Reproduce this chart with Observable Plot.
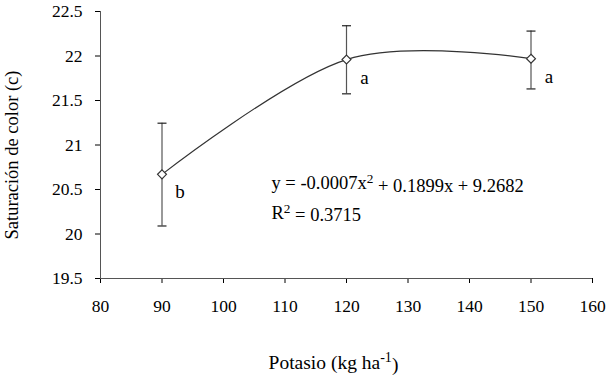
<!DOCTYPE html>
<html>
<head>
<meta charset="utf-8">
<script src="https://cdn.jsdelivr.net/npm/d3@7"></script>
<script src="https://cdn.jsdelivr.net/npm/@observablehq/plot@0.6"></script>
<style>
  html, body { margin: 0; padding: 0; background: #fff; }
</style>
</head>
<body>
<div id="chart"></div>
<script>
// Data
const potassium = [90, 120, 150];
const saturation = [20.67, 21.96, 21.97];
const errLow = [20.09, 21.575, 21.63];
const errHigh = [21.245, 22.34, 22.28];
const letters = ["b", "a", "a"];
const xTicks = [80, 90, 100, 110, 120, 130, 140, 150, 160];
const yTicks = [19.5, 20, 20.5, 21, 21.5, 22, 22.5];
const equationLines = ["y = -0.0007x^{2} + 0.1899x + 9.2682", "R^{2} = 0.3715"];
const xTitle = "Potasio (kg ha^{-1})";
const yTitle = "Saturación de color (c)";

const SERIF = "Liberation Serif";

const data = potassium.map((x, i) => ({x, y: saturation[i], lo: errLow[i], hi: errHigh[i], letter: letters[i]}));
const eq = equationLines.map((t, i) => ({t, x: 107.8, y: [20.567, 20.24][i]}));

const capSymbol = {
  draw(context, size) {
    const r = Math.sqrt(size / Math.PI);
    context.moveTo(-r, 0);
    context.lineTo(r, 0);
  }
};

const chart = Plot.plot({
  width: 611,
  height: 382,
  marginLeft: 100,
  marginRight: 19,
  marginTop: 11,
  marginBottom: 104,
  style: {fontFamily: SERIF, fontSize: "17.5px", color: "#000", background: "#fff", overflow: "visible"},
  x: {domain: [80, 160], ticks: xTicks, tickSize: 5, tickPadding: 16, tickFormat: d => String(d), label: null},
  y: {domain: [19.5, 22.5], ticks: yTicks, tickSize: 5, tickPadding: 13, tickFormat: d => String(d), label: null},
  marks: [
    Plot.ruleX([80], {stroke: "#555"}),
    Plot.ruleY([19.5], {stroke: "#555"}),
    Plot.ruleX(data, {x: "x", y1: "lo", y2: "hi", stroke: "#555", strokeWidth: 1.2}),
    Plot.dot(data, {x: "x", y: "lo", symbol: capSymbol, r: 4.5, stroke: "#222", fill: "none", strokeWidth: 1.2}),
    Plot.dot(data, {x: "x", y: "hi", symbol: capSymbol, r: 4.5, stroke: "#222", fill: "none", strokeWidth: 1.2}),
    Plot.line(data, {x: "x", y: "y", curve: "cardinal", stroke: "#333", strokeWidth: 1.2}),
    Plot.dot(data, {x: "x", y: "y", symbol: "diamond2", r: 4, fill: "#fff", stroke: "#333", strokeWidth: 1.2}),
    Plot.text(data, {x: "x", y: "y", text: "letter", dx: 18, dy: 18, fontSize: 19, fontFamily: SERIF, fill: "#000"}),
    Plot.text(eq, {x: "x", y: "y", text: "t", textAnchor: "start", fontSize: 18.5, fontFamily: SERIF, fill: "#000"}),
    Plot.text([xTitle], {frameAnchor: "bottom", textAnchor: "middle", dx: -13, dy: 90, fontSize: 19.5, fontFamily: SERIF, fill: "#000"}),
    Plot.text([yTitle], {frameAnchor: "left", textAnchor: "middle", rotate: -90, dx: -88, dy: 10, fontSize: 18.5, fontFamily: SERIF, fill: "#000"})
  ]
});

chart.querySelectorAll("g, text").forEach(el => el.setAttribute("font-family", SERIF));
chart.setAttribute("font-family", SERIF);

// turn ^{...} into superscript tspans
chart.querySelectorAll("text").forEach(t => {
  const s = t.textContent;
  if (!s.includes("^{")) return;
  while (t.firstChild) t.removeChild(t.firstChild);
  const ns = "http://www.w3.org/2000/svg";
  const re = /\^\{([^}]*)\}/g;
  let last = 0, m, shifted = false;
  const add = (txt, sup) => {
    const sp = document.createElementNS(ns, "tspan");
    sp.textContent = txt;
    if (sup) { sp.setAttribute("dy", "-0.45em"); sp.setAttribute("font-size", "72%"); shifted = true; }
    else if (shifted) { sp.setAttribute("dy", "0.45em"); shifted = false; }
    t.appendChild(sp);
  };
  while ((m = re.exec(s))) {
    if (m.index > last) add(s.slice(last, m.index), false);
    add(m[1], true);
    last = re.lastIndex;
  }
  if (last < s.length) add(s.slice(last), false);
});

document.getElementById("chart").appendChild(chart);
</script>
</body>
</html>
